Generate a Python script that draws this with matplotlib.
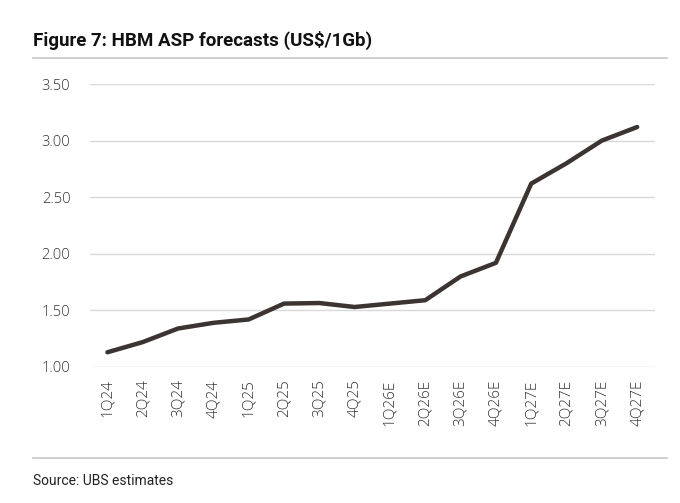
import matplotlib
matplotlib.use("Agg")
import matplotlib.pyplot as plt
from matplotlib.lines import Line2D

quarters = ["1Q24", "2Q24", "3Q24", "4Q24", "1Q25", "2Q25", "3Q25", "4Q25",
            "1Q26E", "2Q26E", "3Q26E", "4Q26E", "1Q27E", "2Q27E", "3Q27E", "4Q27E"]
asp = [1.13, 1.22, 1.34, 1.39, 1.42, 1.56, 1.565, 1.53,
       1.56, 1.59, 1.80, 1.92, 2.62, 2.80, 3.00, 3.12]
y_ticks = [1.00, 1.50, 2.00, 2.50, 3.00, 3.50]

plt.rcParams['font.family'] = ['Open Sans', 'DejaVu Sans']

fig = plt.figure(figsize=(6.8, 5.03), dpi=100, facecolor="white")
ax = fig.add_axes([0.132, 0.2704, 0.831, 0.5626])

x = list(range(len(quarters)))
ax.plot(x, asp, color="#3b3430", linewidth=3.2, solid_capstyle="round", solid_joinstyle="round", zorder=3)

ax.set_xlim(-0.5, len(quarters) - 0.5)
ax.set_ylim(1.0, 3.5)
ax.set_yticks(y_ticks)
ax.set_yticklabels([f"{v:.2f}" for v in y_ticks], fontsize=10.5, color="#333333", fontweight="light")
ax.set_xticks(x)
ax.set_xticklabels(quarters, rotation=90, fontsize=11, color="#333333", fontweight="light")
ax.tick_params(axis="both", length=0)
ax.tick_params(axis="y", pad=14)
ax.tick_params(axis="x", pad=9)
ax.grid(axis="y", color="#d9d9d9", linewidth=1)
ax.set_axisbelow(True)
for s in ax.spines.values():
    s.set_visible(False)

# title, rules and source note
fig.text(33 / 680, 1 - 40 / 503, "Figure 7: HBM ASP forecasts (US$/1Gb)", fontsize=13.5,
         fontweight="bold", color="#111111", va="center", ha="left", family=["Roboto", "DejaVu Sans"])
fig.add_artist(Line2D([33 / 680, 667 / 680], [1 - 58 / 503] * 2, color="#c8c8c8", linewidth=1.2))
fig.add_artist(Line2D([33 / 680, 667 / 680], [1 - 458 / 503] * 2, color="#c8c8c8", linewidth=1.2))
fig.text(33 / 680, 1 - 481 / 503, "Source: UBS estimates", fontsize=10, color="#222222",
         va="center", ha="left", family=["Roboto", "DejaVu Sans"])

fig.savefig("out.png", dpi=100, facecolor="white")
